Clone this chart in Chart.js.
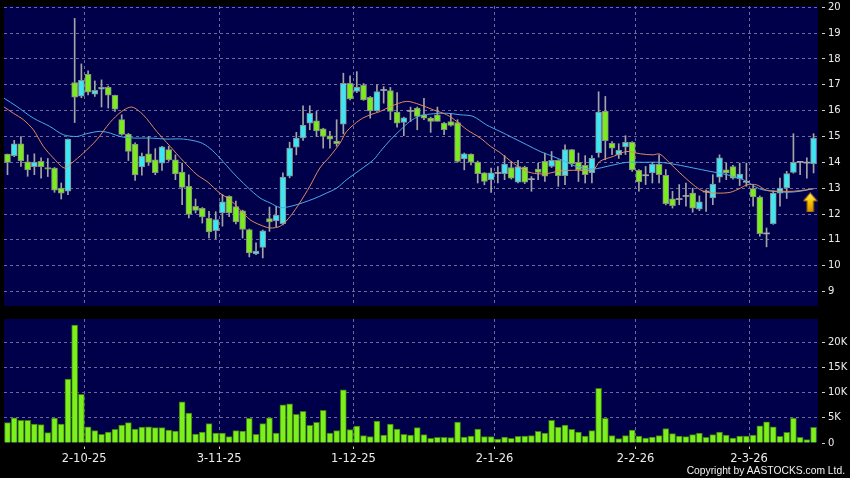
<!DOCTYPE html>
<html><head><meta charset="utf-8">
<script src="https://cdn.jsdelivr.net/npm/chart.js@4.4.1/dist/chart.umd.min.js"></script>
<style>
html,body{margin:0;padding:0;background:#000;width:850px;height:478px;overflow:hidden}
#c1{position:absolute;left:0;top:0}
#c2{position:absolute;left:0;top:306px}
#copy{position:absolute;right:5px;top:465px;font:10.3px "Liberation Sans",Arial,sans-serif;color:#f0f0f0;white-space:nowrap;line-height:12px}
</style></head><body>
<canvas id="c1" width="850" height="310"></canvas>
<canvas id="c2" width="850" height="172"></canvas>
<div id="copy">Copyright by AASTOCKS.com Ltd.</div>
<script>
// ---- data (one entry per trading day, oldest first) ----
const openP  = [14.32,14.26,14.72,14.02,13.83,14.04,13.80,13.78,13.00,12.88,17.09,16.56,17.41,16.64,16.83,16.90,16.59,15.65,15.09,14.71,13.82,14.33,14.10,13.97,14.49,14.10,13.62,13.07,12.30,12.22,11.83,11.36,12.04,12.68,12.29,12.12,11.40,10.46,10.71,11.82,11.73,11.63,13.46,14.59,14.94,15.52,15.61,15.30,15.03,14.82,15.48,17.06,16.74,16.99,16.52,15.99,16.78,16.78,15.94,15.54,15.97,16.10,15.84,15.71,15.84,15.52,15.58,15.54,14.13,14.32,14.01,13.59,13.33,13.57,13.56,13.80,13.23,13.82,13.33,13.74,14.04,13.84,14.08,13.48,14.49,14.00,13.88,13.59,14.36,15.97,14.74,14.29,14.60,14.77,13.69,13.48,13.59,13.92,13.50,12.59,12.56,12.68,12.81,12.19,12.85,12.62,13.43,13.71,13.84,13.37,13.23,12.98,12.66,11.23,11.63,12.81,13.01,13.61,14.00,13.97,13.95];
const highP  = [14.32,14.85,15.00,14.29,14.33,14.17,14.15,13.80,13.20,14.90,19.57,17.81,17.54,17.15,17.19,16.95,16.60,15.84,15.12,14.75,14.36,15.00,14.53,14.62,14.62,14.29,13.97,13.52,12.58,12.25,12.10,12.09,12.75,12.70,12.50,12.15,11.42,10.88,11.38,12.27,12.30,13.59,14.78,15.16,16.19,16.19,15.97,15.32,15.20,15.65,17.45,17.35,17.51,17.05,16.55,17.00,16.93,16.90,16.70,15.75,16.14,16.14,16.48,15.75,16.14,15.55,15.90,15.65,14.36,14.33,14.05,13.60,13.78,13.84,14.26,14.04,14.08,13.85,13.45,13.97,14.36,14.42,14.10,14.68,14.50,14.36,14.26,14.26,16.73,16.55,14.80,14.72,15.03,14.80,13.72,13.84,14.00,14.29,13.72,12.88,13.14,13.20,13.00,12.70,12.94,13.52,14.29,13.97,13.88,13.97,13.97,13.10,12.70,11.46,12.90,13.39,13.65,15.11,14.02,14.17,15.11];
const lowP   = [13.52,14.22,13.84,13.46,13.52,13.39,13.45,12.84,12.58,12.75,15.54,16.50,16.61,16.55,16.14,16.10,15.97,15.05,14.07,13.30,13.50,13.88,13.52,13.69,14.04,13.33,12.36,11.85,12.04,11.65,11.07,11.04,11.53,11.90,11.62,11.07,10.34,10.43,10.30,11.33,11.50,11.58,13.40,14.29,14.85,15.26,15.00,14.55,14.55,14.62,15.10,16.42,16.70,16.40,15.71,15.97,16.29,15.65,15.36,15.03,15.58,15.26,15.65,15.16,15.60,15.07,15.40,14.00,13.71,13.90,13.20,13.13,12.84,13.20,13.33,13.35,13.20,13.18,12.88,13.33,13.26,13.80,13.07,13.14,13.84,13.26,13.20,13.20,14.20,14.10,14.30,14.15,14.30,13.65,12.88,13.14,13.20,13.20,12.35,12.23,12.36,12.30,12.07,12.13,12.10,12.36,13.23,13.33,13.35,13.10,13.07,12.30,11.14,10.73,11.60,12.30,12.60,13.58,13.52,13.39,13.59];
const closeP = [14.00,14.72,14.05,13.71,14.01,13.83,13.74,12.92,12.81,14.90,16.52,17.17,16.72,16.79,16.90,16.60,16.06,15.08,14.42,13.51,14.24,14.00,13.60,14.60,14.09,13.55,13.03,11.98,12.14,11.89,11.31,11.78,12.47,12.04,11.69,11.40,10.49,10.57,11.35,11.69,11.96,13.43,14.55,14.94,15.44,15.90,15.22,15.00,14.90,14.72,17.06,16.45,16.91,16.42,15.99,16.74,16.78,15.97,15.52,15.72,15.97,15.78,15.71,15.58,15.58,15.26,15.43,14.04,14.33,14.01,13.56,13.26,13.59,13.57,13.93,13.39,13.84,13.23,13.33,13.61,13.46,14.08,13.48,14.49,13.95,13.71,13.52,14.15,15.94,14.84,14.55,14.46,14.77,13.71,13.24,13.48,13.92,13.52,12.40,12.32,12.56,12.68,12.23,12.47,12.85,13.16,14.17,13.59,13.39,13.55,13.23,12.66,11.24,11.23,12.81,13.00,13.56,14.00,14.00,13.97,14.94];
const volume = [4030,5000,4500,4500,3760,3630,2050,4950,3760,12670,23400,9640,3230,2440,1720,2180,2700,3560,4030,2770,3170,3230,3040,3040,2570,2380,8180,5940,1780,2180,3830,1980,1980,1250,2440,2380,4880,1720,3830,5000,1980,7590,7790,5680,6270,3500,4100,6470,1980,2440,10560,2640,3370,1450,1250,4360,1580,3760,2770,1720,1580,3040,1650,920,1120,1120,1060,4160,1190,1390,2770,1250,1250,790,1190,920,1320,1390,1450,2310,1980,4490,3170,3560,2700,2180,1390,2440,10830,4880,1450,860,1450,2570,1390,990,1190,1450,2840,1850,1390,1250,1650,1980,1120,1650,2180,1580,990,1390,1390,1580,3430,4220,3230,1320,2110,4950,1120,660,3100];
// moving-average lines (position in trading days, value)
const maShortAt  = [-0.5,0.87,2.36,3.85,5.33,6.82,8.46,9.55,11.3,13.28,15.26,17,18.5,20.2,22.2,24.2,26.2,28.2,29.7,31.6,33.1,34.6,36.1,37.6,39.1,40.6,42.1,43.5,45,46.5,48,49.5,50.5,52.5,54,55.5,57,59.4,61.4,63.4,65.4,66.9,68.4,70.4,71.9,73.3,75.3,77.3,78.8,80.3,81.8,83.3,85.2,87.2,88.2,90.2,92.2,94.2,96.1,97.1,98.6,100.1,102.1,103.6,105.6,107.6,109.1,110.1,111.5,113,115,117,119,120];
const maShortVal = [16.14,15.9,15.65,15.26,14.62,14.17,13.78,13.97,14.36,14.87,15.54,15.97,16.14,15.84,15.2,14.62,14.04,13.52,13.26,12.81,12.56,12.17,11.78,11.58,11.46,11.53,11.91,12.43,13.07,13.78,14.23,14.74,15.2,15.65,15.84,15.97,16.16,16.36,16.23,16.03,15.84,15.58,15.26,14.94,14.62,14.38,13.97,13.65,13.56,13.56,13.65,13.69,13.69,13.71,14.04,14.23,14.42,14.33,14.29,14.32,13.97,13.59,13.13,12.88,12.81,12.84,13.0,13.13,13.13,12.92,12.88,12.88,12.94,12.98];
const maLongAt   = [-0.5,1.4,3.85,6.3,8.3,10.3,11.8,13.8,15.3,16.75,18.7,21.2,23.7,26.2,28.7,30.1,31.6,33.6,35.6,37.6,39.1,40.6,42.5,45.5,47.5,49,50.5,52.5,54.5,55.5,57,58.4,59.9,61.4,63.4,65.4,67.4,69.3,71.3,73.3,75.3,77.3,79.3,81.2,83.3,84.7,87.2,89.7,92.2,94.6,97.1,99.6,102.1,104.6,107.1,109.5,112,114,116,118,120];
const maLongVal  = [16.48,16.16,15.71,15.39,15.07,15.0,15.11,15.2,15.13,15.0,14.94,14.94,14.9,14.9,14.77,14.55,14.17,13.59,13.07,12.62,12.43,12.25,12.32,12.58,12.81,13.0,13.33,13.71,14.1,14.42,14.87,15.23,15.58,15.8,15.88,15.9,15.84,15.78,15.45,15.2,14.94,14.68,14.42,14.23,14.0,13.84,13.74,13.87,14.0,14.0,14.0,13.91,13.78,13.65,13.52,13.33,12.97,12.88,12.84,12.88,12.98];
const signalAt   = [119.5];
const signalVal  = [12.45];
const dateTickAt     = [11.4, 31.5, 51.5, 72.5, 93.5, 110.4];
const dateTickLabels = ['2-10-25','3-11-25','1-12-25','2-1-26','2-2-26','2-3-26'];
const priceTicks     = [9,10,11,12,13,14,15,16,17,18,19,20];
const volTicks       = [0,5000,10000,15000,20000];
const volTickLabels  = ['0','5K','10K','15K','20K'];

// ---- styles ----
const NAVY='#00004a', GRID='#6a6a9c', TXT='#ececec';
const UP='#3ce6f2', DOWN='#7aec1e', DOJI='#a8a8a8', WICK='#a4a4a4', EDGE='#8a8a8a';
const VOL='#7cf01c', VOLEDGE='#3f7a10', ORANGE='#e4895c', BLUE='#48acea';
const XMIN=-0.52, XMAX=120.66;
Chart.defaults.font.family='"DejaVu Sans", sans-serif';
Chart.defaults.color=TXT;

const plotBg={id:'plotBg',beforeDraw(ch){const a=ch.chartArea,c=ch.ctx;c.save();c.fillStyle=NAVY;c.fillRect(a.left,a.top,a.right-a.left,a.bottom-a.top);c.restore();}};

function arrowImg(){const c=document.createElement('canvas');c.width=15;c.height=20;const g=c.getContext('2d');
 const gr=g.createLinearGradient(0,0,0,20);gr.addColorStop(0,'#fff27a');gr.addColorStop(0.5,'#f5c400');gr.addColorStop(1,'#d88a00');
 g.fillStyle=gr;g.beginPath();g.moveTo(7.5,0.5);g.lineTo(14.5,8.5);g.lineTo(10.8,8.5);g.lineTo(10.8,19.5);g.lineTo(4.2,19.5);g.lineTo(4.2,8.5);g.lineTo(0.5,8.5);g.closePath();g.fill();
 g.strokeStyle='#9a6400';g.lineWidth=1;g.stroke();return c;}

const idx=openP.map((_,i)=>i);
const dir=i=>closeP[i]>openP[i]?1:(closeP[i]<openP[i]?-1:0);
const fixW=s=>{s.width=32;s.paddingTop=0;s.paddingBottom=0;};
const xGrid=(showLabels)=>({type:'linear',min:XMIN,max:XMAX,offset:false,
  afterBuildTicks:s=>{s.ticks=dateTickAt.map(v=>({value:v}));},
  grid:{offset:false,color:GRID,lineWidth:1,drawTicks:showLabels,tickLength:6,tickColor:'#d0d0d0',tickBorderDash:[0,3.5,2.5,50]},
  border:{display:false,dash:[3,3]},
  ticks:{display:showLabels,autoSkip:false,maxRotation:0,padding:3,color:TXT,font:{size:11.5},callback:(v,k)=>dateTickLabels[k]},
  afterFit:s=>{s.height=showLabels?35:0;s.paddingLeft=0;s.paddingRight=0;}});

new Chart(document.getElementById('c1'),{
 type:'bar',
 data:{datasets:[
  {type:'scatter',data:signalAt.map((x,k)=>({x,y:signalVal[k]})),pointStyle:arrowImg(),pointRadius:0.5,pointHitRadius:0,pointBorderWidth:0,order:-1},
  {type:'line',data:maShortAt.map((x,k)=>({x,y:maShortVal[k]})),borderColor:ORANGE,borderWidth:1,pointRadius:0,pointHitRadius:0,tension:0.3,order:0},
  {type:'line',data:maLongAt.map((x,k)=>({x,y:maLongVal[k]})),borderColor:BLUE,borderWidth:1,pointRadius:0,pointHitRadius:0,tension:0.3,order:0},
  {type:'bar',data:idx.map(i=>({x:i,y:[openP[i],closeP[i]]})),grouped:false,barThickness:6,minBarLength:1,borderSkipped:false,
   backgroundColor:c=>{const d=dir(c.dataIndex);return d>0?UP:(d<0?DOWN:DOJI);},
   borderColor:EDGE,borderWidth:c=>dir(c.dataIndex)===0?0:1,order:1},
  {type:'bar',data:idx.map(i=>({x:i,y:[lowP[i],highP[i]]})),grouped:false,barThickness:1,backgroundColor:WICK,order:2}
 ]},
 options:{responsive:false,animation:false,devicePixelRatio:1,
  layout:{padding:{left:4,top:6,right:0,bottom:4}},
  plugins:{legend:{display:false},tooltip:{enabled:false}},
  scales:{
   x:xGrid(false),
   y:{type:'linear',position:'right',min:8.44,max:20.05,
    afterBuildTicks:s=>{s.ticks=priceTicks.map(v=>({value:v}));},
    afterFit:fixW,
    grid:{color:GRID,drawTicks:true,tickLength:7,tickColor:'#d0d0d0',tickBorderDash:[0,4,3,50]},
    border:{display:false,dash:[3,3]},
    ticks:{padding:3,color:TXT,font:{size:10},callback:v=>String(v)}}
  }},
 plugins:[plotBg]
});

new Chart(document.getElementById('c2'),{
 type:'bar',
 data:{datasets:[
  {type:'bar',data:idx.map(i=>({x:i,y:volume[i]})),grouped:false,barThickness:6,backgroundColor:VOL,borderColor:VOLEDGE,borderWidth:1,borderSkipped:'bottom'}
 ]},
 options:{responsive:false,animation:false,devicePixelRatio:1,
  layout:{padding:{left:4,top:13,right:0,bottom:0}},
  plugins:{legend:{display:false},tooltip:{enabled:false}},
  scales:{
   x:xGrid(true),
   y:{type:'linear',position:'right',min:0,max:24600,
    afterBuildTicks:s=>{s.ticks=volTicks.map(v=>({value:v}));},
    afterFit:fixW,
    grid:{color:c=>c.tick&&c.tick.value===0?'rgba(0,0,0,0)':GRID,drawTicks:true,tickLength:7,tickColor:'#d0d0d0',tickBorderDash:[0,4,3,50]},
    border:{display:false,dash:[3,3]},
    ticks:{padding:3,color:TXT,font:{size:10},callback:(v,k)=>volTickLabels[k]}}
  }},
 plugins:[plotBg]
});
</script>
</body></html>
